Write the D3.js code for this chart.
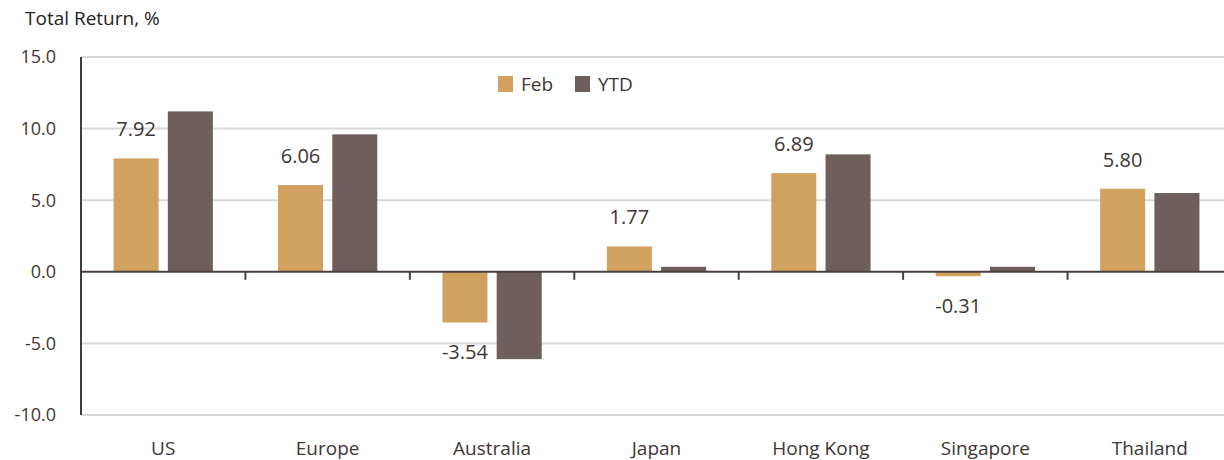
<!DOCTYPE html>
<html>
<head>
<meta charset="utf-8">
<script src="https://cdn.jsdelivr.net/npm/d3@7"></script>
<style>
  html, body { margin: 0; padding: 0; background: #ffffff; }
  svg { display: block; }
  text { font-family: "Open Sans", "Lato", sans-serif; fill: #3e3634; }
</style>
</head>
<body>
<svg id="chart" width="1224" height="460"></svg>
<script>
// Market total returns, %
const categories = ["US", "Europe", "Australia", "Japan", "Hong Kong", "Singapore", "Thailand"];
const seriesNames = ["Feb", "YTD"];
const febValues = [7.92, 6.06, -3.54, 1.77, 6.89, -0.31, 5.80];
const ytdValues = [11.2, 9.6, -6.1, 0.35, 8.2, 0.35, 5.5];
const yTicks = [-10, -5, 0, 5, 10, 15];
const colors = { Feb: "#d1a160", YTD: "#6e5e5c" };

const svg = d3.select("#chart");
const plotLeft = 81, plotRight = 1232, plotTop = 57, plotBottom = 415;

// Plain hyphen for negatives
const fmt = f => v => d3.format(f)(v).replace("\u2212", "-");

const x = d3.scaleBand().domain(categories).range([plotLeft, plotRight]).paddingInner(0).paddingOuter(0);
const y = d3.scaleLinear().domain([-10, 15]).range([plotBottom, plotTop]);
const xSub = d3.scaleBand().domain(seriesNames).range([0, x.bandwidth()]).paddingInner(0.17).paddingOuter(0.6);

// Horizontal gridlines
svg.append("g")
  .selectAll("line")
  .data(yTicks.filter(d => d !== 0))
  .join("line")
  .attr("x1", plotLeft).attr("x2", 1224)
  .attr("y1", d => y(d)).attr("y2", d => y(d))
  .attr("stroke", "#d9d9d9").attr("stroke-width", 2);

// Y tick labels
svg.append("g")
  .selectAll("text")
  .data(yTicks)
  .join("text")
  .attr("x", 56)
  .attr("y", d => y(d))
  .attr("dy", "0.35em")
  .attr("text-anchor", "end")
  .style("font-size", "18px")
  .text(fmt(".1f"));

// Bars
const rows = categories.map((c, i) => ({ cat: c, Feb: febValues[i], YTD: ytdValues[i] }));
const groups = svg.append("g")
  .selectAll("g")
  .data(rows)
  .join("g")
  .attr("transform", d => `translate(${x(d.cat)},0)`);

groups.selectAll("rect")
  .data(d => seriesNames.map(s => ({ s, v: d[s] })))
  .join("rect")
  .attr("x", d => xSub(d.s))
  .attr("width", xSub.bandwidth())
  .attr("y", d => y(Math.max(0, d.v)))
  .attr("height", d => Math.abs(y(d.v) - y(0)))
  .attr("fill", d => colors[d.s]);

// Value labels on the Feb bars
groups.append("text")
  .attr("x", xSub("Feb") + xSub.bandwidth() / 2)
  .attr("y", d => d.Feb >= 0 ? y(d.Feb) - 22 : y(d.Feb) + 37)
  .attr("text-anchor", "middle")
  .style("font-size", "20px")
  .text(d => fmt(".2f")(d.Feb));

// Zero baseline with ticks between categories
svg.append("line")
  .attr("x1", plotLeft).attr("x2", 1224)
  .attr("y1", y(0)).attr("y2", y(0))
  .attr("stroke", "#4a3f3d").attr("stroke-width", 2);

svg.append("g")
  .selectAll("line")
  .data(categories.slice(1))
  .join("line")
  .attr("x1", d => x(d)).attr("x2", d => x(d))
  .attr("y1", y(0)).attr("y2", y(0) + 8)
  .attr("stroke", "#4a3f3d").attr("stroke-width", 2);

// Y axis line
svg.append("line")
  .attr("x1", plotLeft).attr("x2", plotLeft)
  .attr("y1", plotTop).attr("y2", plotBottom)
  .attr("stroke", "#3b3b45").attr("stroke-width", 2);

// Category labels
svg.append("g")
  .selectAll("text")
  .data(categories)
  .join("text")
  .attr("x", d => x(d) + x.bandwidth() / 2)
  .attr("y", 455)
  .attr("text-anchor", "middle")
  .style("font-size", "19px")
  .text(d => d);

// Axis title
svg.append("text")
  .attr("x", 25).attr("y", 25)
  .style("font-size", "19px")
  .style("fill", "#262223")
  .text("Total Return, %");

// Legend
const legend = svg.append("g").attr("transform", "translate(498,76)");
const li = legend.selectAll("g")
  .data(seriesNames)
  .join("g")
  .attr("transform", (d, i) => `translate(${i * 77},0)`);
li.append("rect").attr("width", 15).attr("height", 16).attr("fill", d => colors[d]);
li.append("text").attr("x", 23).attr("y", 8).attr("dy", "0.35em")
  .style("font-size", "19px").text(d => d);
</script>
</body>
</html>
